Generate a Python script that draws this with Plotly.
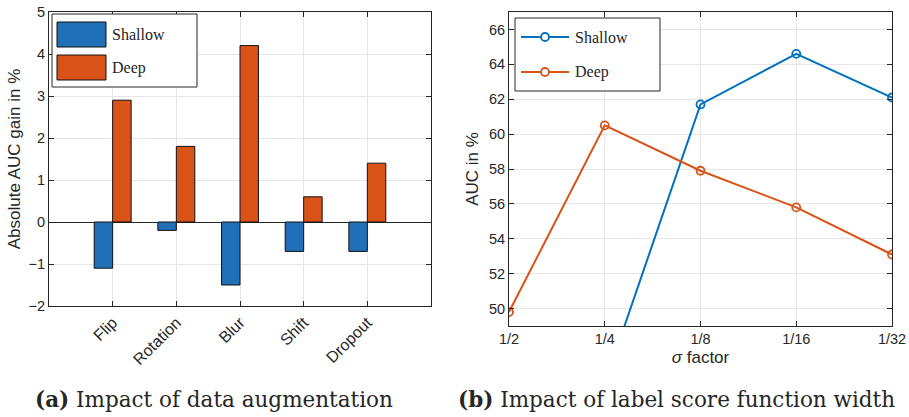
import plotly.graph_objects as go

# ---- data ----
aug_categories = ["Flip", "Rotation", "Blur", "Shift", "Dropout"]
aug_shallow = [-1.1, -0.2, -1.5, -0.7, -0.7]
aug_deep = [2.9, 1.8, 4.2, 0.6, 1.4]

sigma_labels = ["1/2", "1/4", "1/8", "1/16", "1/32"]
sigma_shallow = [None, 45.7, 61.7, 64.6, 62.1]
sigma_deep = [49.8, 60.5, 57.9, 55.8, 53.1]

series_names = ["Shallow", "Deep"]

BLUE = "#0072BD"
BAR_BLUE = "#1f70b6"
ORANGE = "#D95319"
INK = "#262626"
SANS = "Liberation Sans, Arial, sans-serif"
TICKFONT = dict(family=SANS, size=14.5, color=INK)
TITLEFONT = dict(family=SANS, size=17, color=INK)
SERIF = "DejaVu Serif, serif"
LEGSERIF = "Liberation Serif, serif"

W, H = 909, 417
px = lambda v: v / W
py = lambda v: 1 - v / H

aug_x = list(range(1, len(aug_categories) + 1))
sig_x = list(range(len(sigma_labels)))

fig = go.Figure()
fig.add_trace(go.Bar(x=aug_x, y=aug_shallow, name=series_names[0], showlegend=False,
                     marker=dict(color=BAR_BLUE, line=dict(color="#111", width=1)), xaxis="x", yaxis="y"))
fig.add_trace(go.Bar(x=aug_x, y=aug_deep, name=series_names[1], showlegend=False,
                     marker=dict(color=ORANGE, line=dict(color="#111", width=1)), xaxis="x", yaxis="y"))
for vals, col, nm in [(sigma_shallow, BLUE, series_names[0]), (sigma_deep, ORANGE, series_names[1])]:
    fig.add_trace(go.Scatter(x=sig_x, y=vals, name=nm, mode="lines+markers", showlegend=False, cliponaxis=True,
                             line=dict(color=col, width=2),
                             marker=dict(symbol="circle-open", size=8, line=dict(width=1.8, color=col)),
                             xaxis="x2", yaxis="y2"))

axis_common = dict(showline=True, linecolor=INK, linewidth=1, mirror="ticks", ticks="inside",
                   ticklen=5, tickcolor=INK, gridcolor="#e6e6e6",
                   zeroline=False, automargin=False)

fig.update_layout(
    width=W, height=H,
    margin=dict(l=0, r=0, t=0, b=0, autoexpand=False),
    plot_bgcolor="white", paper_bgcolor="white",
    barmode="group", bargap=0.42, bargroupgap=0,
    xaxis=dict(domain=[px(49), px(431)], range=[0, 6], tickvals=aug_x, ticktext=aug_categories,
               tickangle=-45, tickfont=dict(family=SANS, size=16, color=INK), **axis_common),
    yaxis=dict(domain=[py(306), py(12)], range=[-2, 5], dtick=1, tickfont=TICKFONT,
               title=dict(text="Absolute AUC gain in %", font=TITLEFONT, standoff=3),
               **axis_common),
    xaxis2=dict(domain=[px(509), px(892)], range=[0, 4], tickvals=sig_x, ticktext=sigma_labels,
                tickfont=TICKFONT, title=dict(text="<i>σ</i> factor", font=TITLEFONT, standoff=4),
                anchor="y2", **axis_common),
    yaxis2=dict(domain=[py(326), py(12)], range=[49, 67], dtick=2, anchor="x2", tickfont=TICKFONT,
                title=dict(text="AUC in %", font=TITLEFONT, standoff=6),
                **axis_common),
)
fig.layout.yaxis.zeroline = True
fig.layout.yaxis.zerolinecolor = INK
fig.layout.yaxis.zerolinewidth = 1

# ---- legend (a): bar swatches ----
fig.add_shape(type="rect", xref="paper", yref="paper", x0=px(52), x1=px(197), y0=py(87), y1=py(14),
              line=dict(color=INK, width=1), fillcolor="white", layer="above")
for i, (nm, col) in enumerate(zip(series_names, [BAR_BLUE, ORANGE])):
    top = 22 + i * 33
    fig.add_shape(type="rect", xref="paper", yref="paper", x0=px(57), x1=px(106), y0=py(top + 25), y1=py(top),
                  line=dict(color="#111", width=1), fillcolor=col, layer="above")
    fig.add_annotation(x=px(110), y=py(top + 12.5), xref="paper", yref="paper", showarrow=False,
                       xanchor="left", yanchor="middle", text=nm, font=dict(family=LEGSERIF, size=16, color=INK))

# ---- legend (b): line + marker ----
fig.add_shape(type="rect", xref="paper", yref="paper", x0=px(515), x1=px(660), y0=py(91), y1=py(18),
              line=dict(color=INK, width=1), fillcolor="white", layer="above")
for i, (nm, col) in enumerate(zip(series_names, [BLUE, ORANGE])):
    yc = 37 + i * 35
    fig.add_shape(type="line", xref="paper", yref="paper", x0=px(521), x1=px(569), y0=py(yc), y1=py(yc),
                  line=dict(color=col, width=2), layer="above")
    fig.add_shape(type="circle", xref="paper", yref="paper", x0=px(541), x1=px(549), y0=py(yc + 4), y1=py(yc - 4),
                  line=dict(color=col, width=1.8), fillcolor="white", layer="above")
    fig.add_annotation(x=px(573), y=py(yc), xref="paper", yref="paper", showarrow=False,
                       xanchor="left", yanchor="middle", text=nm, font=dict(family=LEGSERIF, size=16, color=INK))

# ---- captions ----
fig.add_annotation(x=px(214), y=py(399), xref="paper", yref="paper", showarrow=False, xanchor="center", yanchor="middle",
                   text="<b>(a)</b> Impact of data augmentation", font=dict(family=SERIF, size=21.5, color=INK))
fig.add_annotation(x=px(676), y=py(399), xref="paper", yref="paper", showarrow=False, xanchor="center", yanchor="middle",
                   text="<b>(b)</b> Impact of label score function width", font=dict(family=SERIF, size=21.5, color=INK))

fig.write_html("out.html", config={"displayModeBar": False},
               post_script="document.body.style.margin='0';document.body.style.overflow='hidden';")
